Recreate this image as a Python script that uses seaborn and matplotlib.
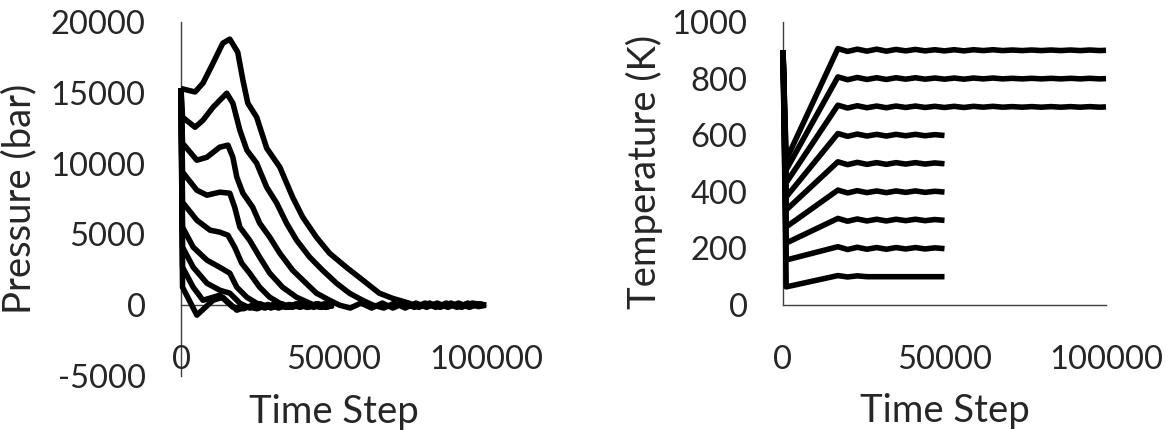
"""
Pressure and temperature traces vs. time step (two-panel, Excel style)
"""

import pandas as pd
import matplotlib
matplotlib.use('Agg')
import matplotlib.pyplot as plt
import seaborn as sns

# ---- pressure traces (bar), one per set temperature ----
P900_STEPS = [0, 4600, 7200, 10500, 13700, 16000, 18600, 20300, 21900, 24800,
              28100, 32400, 36600, 39900, 44400, 48700, 54200, 59600, 65000, 69300,
              74800, 78000, 81500, 85000, 88500, 92000, 95500, 100000]
P900 = [15300, 15060, 15680, 17090, 18500, 18790, 17870, 15890, 14270, 13280,
        11090, 9750, 7630, 6220, 4800, 3670, 2680, 1770, 850, 490,
        140, -150, 150, -150, 150, -150, 150, 0]

P800_STEPS = [0, 500, 4600, 7200, 10500, 15000, 17000, 19300, 21600, 24800,
              28100, 31400, 34600, 37900, 42200, 46400, 51000, 55200, 59500, 63000,
              66500, 70000, 73500, 77000, 80500, 84000, 87500, 91000, 94500, 98000,
              100000]
P800 = [15300, 13280, 12570, 13060, 13980, 14970, 14270, 12360, 10950, 10030,
        8330, 7200, 5790, 4590, 3390, 2470, 1550, 850, 350, 0,
        -200, 150, -200, 150, -150, 150, -150, 150, -150, 100,
        0]

P700_STEPS = [0, 500, 5200, 8500, 12700, 15400, 17000, 18300, 20300, 23500,
              25800, 29100, 32400, 36600, 41000, 44400, 48700, 52000, 55500, 59000,
              62500, 66000, 69500, 73000, 76500, 80000, 83500, 87000, 90500, 94000,
              97500, 100000]
P700 = [15300, 11440, 10240, 10450, 11160, 11300, 10450, 9040, 7910, 6920,
        5790, 4800, 3670, 2470, 1550, 850, 350, 0, -200, 150,
        -200, 150, -200, 150, -150, 150, -150, 150, -150, 150,
        -100, 0]

P600_STEPS = [0, 500, 5200, 8500, 12700, 16000, 17600, 19300, 22500, 25800,
              29100, 33300, 37900, 42200, 45500, 48000, 50000]
P600 = [15300, 9400, 8120, 7770, 7980, 7910, 6920, 5510, 4590, 3390,
        2260, 1270, 560, 140, -150, 100, -50]

P500_STEPS = [0, 500, 5200, 9500, 12700, 15400, 17600, 19900, 22500, 25800,
              29100, 32400, 35500, 38500, 41500, 44500, 47500, 50000]
P500 = [15300, 7270, 6000, 5300, 5160, 4940, 4100, 2970, 2260, 1270,
        560, 140, -150, 100, -150, 100, -150, 0]

P400_STEPS = [0, 500, 4000, 8500, 12700, 16000, 18300, 21600, 24800, 28000,
              31000, 34500, 38000, 41500, 44500, 47500, 50000]
P400 = [15300, 5510, 4100, 3180, 2680, 2260, 1270, 560, 140, -150,
        100, -150, 100, -150, 100, -150, 0]

P300_STEPS = [0, 500, 4000, 8500, 12700, 16000, 19300, 22500, 26000, 29500,
              33000, 36500, 40000, 43500, 47000, 50000]
P300 = [15300, 4100, 2680, 1550, 1060, 850, 140, -200, 100, -200,
        100, -150, 100, -150, 100, 0]

P200_STEPS = [0, 500, 4000, 7200, 10500, 12700, 17000, 20500, 24000, 27500,
              31000, 34500, 38000, 41500, 45000, 48000, 50000]
P200 = [15300, 2680, 1270, 350, 560, 700, -140, -250, 50, -200,
        100, -150, 100, -150, 100, -100, 0]

P100_STEPS = [0, 500, 5200, 10500, 13700, 18300, 21500, 25000, 28500, 32000,
              35500, 39000, 42500, 46000, 50000]
P100 = [15300, 1270, -700, 350, 560, -350, -100, -250, 50, -200,
        50, -150, 50, -150, 0]

# ---- temperature traces (K) ----
T_STEPS_SHORT = [0, 1000, 17000, 20000, 23000, 26000, 29000, 32000, 35000, 38000,
                 41000, 44000, 47000, 50000]
T_STEPS_LONG = T_STEPS_SHORT + [53000, 56000, 59000, 62000, 65000, 68000, 71000,
                                74000, 77000, 80000, 83000, 86000, 89000, 92000,
                                95000, 98000, 100000]

T900 = [900, 513, 906, 896, 904, 897, 904, 897, 903, 898, 903, 898, 902, 898,
        902, 898, 902, 899, 902, 899, 901, 899, 901, 899, 901, 899, 901, 899, 901, 899, 900]
T800 = [900, 478, 806, 796, 804, 797, 803, 797, 803, 798, 803, 798, 802, 798,
        802, 798, 802, 799, 802, 799, 801, 799, 801, 799, 801, 799, 801, 799, 801, 799, 800]
T700 = [900, 432, 706, 696, 704, 697, 703, 697, 703, 698, 703, 698, 702, 698,
        702, 698, 702, 699, 702, 699, 701, 699, 701, 699, 701, 699, 701, 699, 701, 699, 700]
T600 = [900, 382, 606, 596, 604, 597, 603, 597, 603, 598, 603, 598, 602, 599]
T500 = [900, 336, 506, 496, 504, 497, 503, 497, 503, 498, 503, 498, 502, 499]
T400 = [900, 276, 406, 396, 404, 397, 403, 397, 403, 398, 403, 398, 402, 399]
T300 = [900, 219, 306, 296, 304, 297, 303, 297, 303, 298, 303, 298, 302, 299]
T200 = [900, 159, 206, 196, 204, 197, 203, 197, 203, 198, 203, 198, 202, 199]
T100 = [900, 64, 104, 99, 103, 100, 100, 100, 100, 100, 100, 100, 100, 100]

P_TICKS = [-5000, 0, 5000, 10000, 15000, 20000]
T_TICKS = [0, 200, 400, 600, 800, 1000]
X_TICKS = [0, 50000, 100000]


def long_form(traces):
    """traces: list of (name, steps, values) -> long DataFrame"""
    rows = []
    for name, steps, vals in traces:
        for s, v in zip(steps, vals):
            rows.append({'run': name, 'step': s, 'value': v})
    return pd.DataFrame(rows)


pressure = long_form([
    ('900', P900_STEPS, P900), ('800', P800_STEPS, P800), ('700', P700_STEPS, P700),
    ('600', P600_STEPS, P600), ('500', P500_STEPS, P500), ('400', P400_STEPS, P400),
    ('300', P300_STEPS, P300), ('200', P200_STEPS, P200), ('100', P100_STEPS, P100),
])
temperature = long_form([
    ('900', T_STEPS_LONG, T900), ('800', T_STEPS_LONG, T800), ('700', T_STEPS_LONG, T700),
    ('600', T_STEPS_SHORT, T600), ('500', T_STEPS_SHORT, T500), ('400', T_STEPS_SHORT, T400),
    ('300', T_STEPS_SHORT, T300), ('200', T_STEPS_SHORT, T200), ('100', T_STEPS_SHORT, T100),
])

sns.set_style('white')
plt.rcParams['font.family'] = ['Lato', 'DejaVu Sans']
FS = 23.5          # tick labels
FS_LABEL = 27.5    # axis titles
AX_COLOR = '#404040'

fig = plt.figure(figsize=(11.66, 4.30), dpi=100)
ax_p = fig.add_axes([181 / 1166, 54 / 430, 305 / 1166, 354 / 430])
ax_t = fig.add_axes([783 / 1166, 125 / 430, 323 / 1166, 283 / 430])

for ax, df in [(ax_p, pressure), (ax_t, temperature)]:
    sns.lineplot(data=df, x='step', y='value', units='run', estimator=None,
                 color='black', linewidth=4.0, ax=ax, clip_on=False,
                 solid_joinstyle='round', solid_capstyle='butt')
    ax.set_xlim(0, 100000)
    ax.set_xticks(X_TICKS)
    ax.set_xticklabels([str(t) for t in X_TICKS])
    for side in ['top', 'right']:
        ax.spines[side].set_visible(False)
    for side in ['left', 'bottom']:
        ax.spines[side].set_color(AX_COLOR)
        ax.spines[side].set_linewidth(1.0)
        ax.spines[side].set_zorder(0.5)
    ax.tick_params(axis='x', length=0, pad=29, labelsize=FS)
    ax.tick_params(axis='y', length=0, pad=25.5, labelsize=FS)
    ax.set_xlabel('Time Step', fontsize=FS_LABEL)
    ax.patch.set_alpha(0)

# left panel: pressure, horizontal axis crosses at 0
ax_p.set_ylim(-5000, 20000)
ax_p.set_yticks(P_TICKS)
ax_p.set_yticklabels([str(t) for t in P_TICKS])
ax_p.spines['bottom'].set_position(('data', 0))
ax_p.spines['bottom'].set_bounds(0, 100000)
ax_p.xaxis.set_label_coords(0.5, -0.05)
ax_p.set_ylabel('Pressure (bar)', fontsize=FS_LABEL, va='center')
ax_p.yaxis.set_label_coords(-0.53, 0.5)

# right panel: temperature
ax_t.set_ylim(0, 1000)
ax_t.set_yticks(T_TICKS)
ax_t.set_yticklabels([str(t) for t in T_TICKS])
ax_t.xaxis.set_label_coords(0.5, -0.31)
ax_t.set_ylabel('Temperature (K)', fontsize=FS_LABEL, va='center')
ax_t.yaxis.set_label_coords(-0.43, 0.47)

fig.savefig('out.png', dpi=100)
